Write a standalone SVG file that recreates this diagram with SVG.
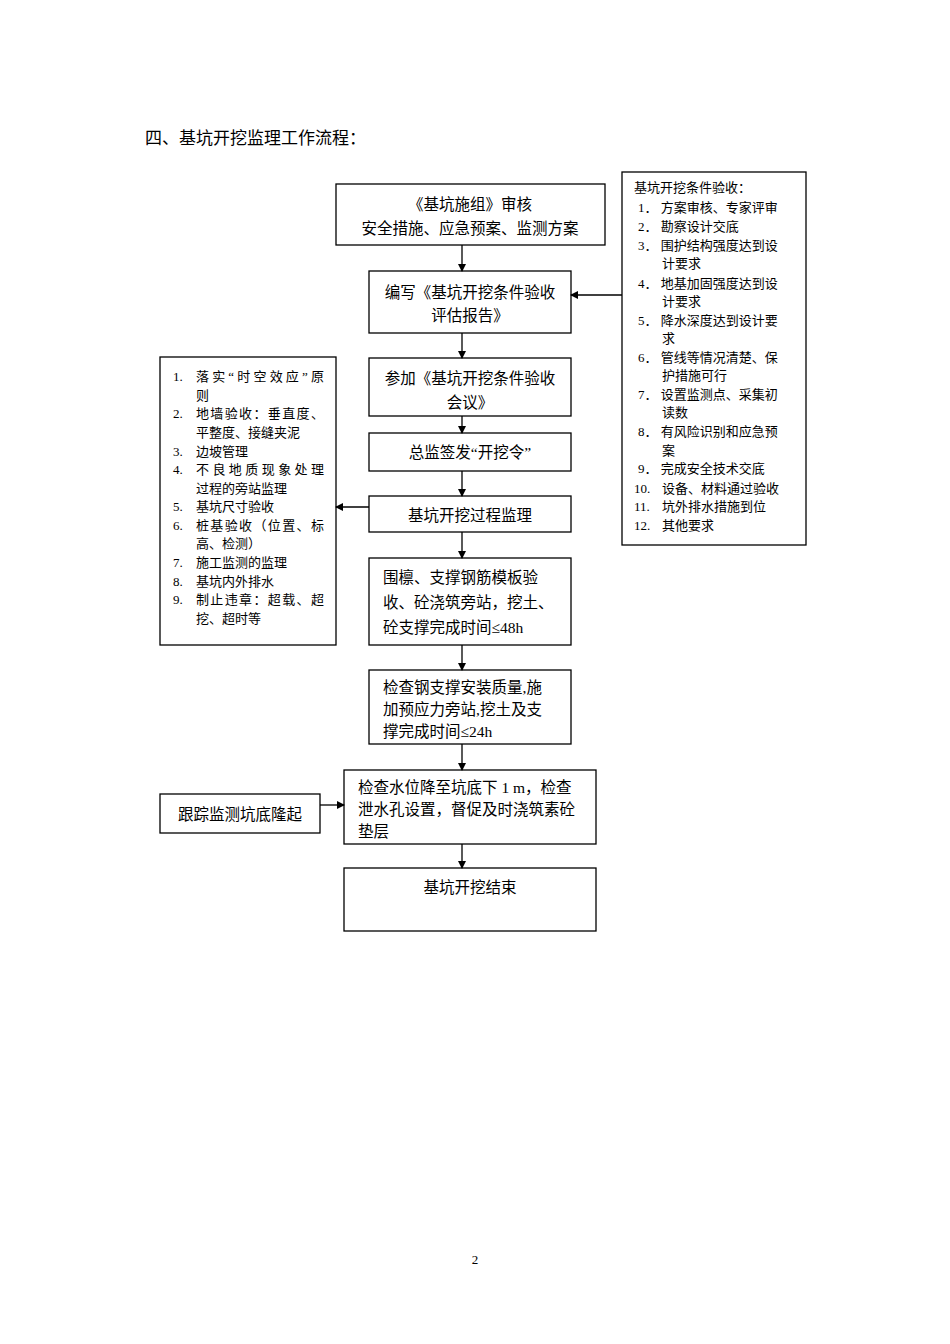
<svg xmlns="http://www.w3.org/2000/svg" width="950" height="1344" viewBox="0 0 950 1344">
<style>
text{font-family:"Liberation Serif","Noto Sans CJK SC",serif;fill:#000}
.b{fill:#fff;stroke:#000;stroke-width:1.3}
.m{font-size:15.5px}
.s{font-size:13px}
.c{text-anchor:middle}
.l{stroke:#000;stroke-width:1.3;fill:none;marker-end:url(#a)}
</style>
<defs><marker id="a" markerWidth="8" markerHeight="8" refX="7" refY="4" orient="auto" markerUnits="userSpaceOnUse"><path d="M0,0L8,4L0,8z" fill="#000"/></marker></defs>
<rect width="950" height="1344" fill="#fff"/>
<text x="145" y="144" style="font-size:17px">四、基坑开挖监理工作流程：</text>
<g id="n1"><rect class="b" x="336" y="184" width="269" height="61"/><text class="m c" x="470" y="210">《基坑施组》审核</text><text class="m c" x="470" y="234">安全措施、应急预案、监测方案</text></g>
<g id="n2"><rect class="b" x="369" y="271" width="202" height="62"/><text class="m c" x="470" y="298">编写《基坑开挖条件验收</text><text class="m c" x="470" y="321">评估报告》</text></g>
<g id="n3"><rect class="b" x="369" y="358" width="202" height="58"/><text class="m c" x="470" y="384">参加《基坑开挖条件验收</text><text class="m c" x="470" y="408">会议》</text></g>
<g id="n4"><rect class="b" x="369" y="433" width="202" height="38"/><text class="m c" x="470" y="458">总监签发“开挖令”</text></g>
<g id="n5"><rect class="b" x="369" y="496" width="202" height="36"/><text class="m c" x="470" y="521">基坑开挖过程监理</text></g>
<g id="n6"><rect class="b" x="369" y="558" width="202" height="87"/><text class="m" x="383" y="583">围檩、支撑钢筋模板验</text><text class="m" x="383" y="608">收、砼浇筑旁站，挖土、</text><text class="m" x="383" y="633">砼支撑完成时间≤48h</text></g>
<g id="n7"><rect class="b" x="369" y="670" width="202" height="74"/><text class="m" x="383" y="693">检查钢支撑安装质量,施</text><text class="m" x="383" y="715">加预应力旁站,挖土及支</text><text class="m" x="383" y="737">撑完成时间≤24h</text></g>
<g id="n8"><rect class="b" x="344" y="770" width="252" height="74"/><text class="m" x="358" y="793">检查水位降至坑底下 1 m，检查</text><text class="m" x="358" y="815">泄水孔设置，督促及时浇筑素砼</text><text class="m" x="358" y="837">垫层</text></g>
<g id="n9"><rect class="b" x="344" y="868" width="252" height="63"/><text class="m c" x="470" y="893">基坑开挖结束</text></g>
<g id="n10"><rect class="b" x="160" y="794" width="160" height="39"/><text class="m c" x="240" y="820">跟踪监测坑底隆起</text></g>
<g id="r"><rect class="b" x="622" y="172" width="184" height="373"/>
<g class="s">
<text x="634" y="192">基坑开挖条件验收：</text>
<text x="638" y="212">1． 方案审核、专家评审</text>
<text x="638" y="231">2． 勘察设计交底</text>
<text x="638" y="250">3． 围护结构强度达到设</text>
<text x="662" y="268">计要求</text>
<text x="638" y="288">4． 地基加固强度达到设</text>
<text x="662" y="306">计要求</text>
<text x="638" y="325">5． 降水深度达到设计要</text>
<text x="662" y="343">求</text>
<text x="638" y="362">6． 管线等情况清楚、保</text>
<text x="662" y="380">护措施可行</text>
<text x="638" y="399">7． 设置监测点、采集初</text>
<text x="662" y="417">读数</text>
<text x="638" y="436">8． 有风险识别和应急预</text>
<text x="662" y="455">案</text>
<text x="638" y="473">9． 完成安全技术交底</text>
<text x="634" y="493">10.<tspan x="662">设备、材料通过验收</tspan></text>
<text x="634" y="511">11.<tspan x="662">坑外排水措施到位</tspan></text>
<text x="634" y="530">12.<tspan x="662">其他要求</tspan></text>
</g></g>
<g id="l"><rect class="b" x="160" y="357" width="176" height="288"/>
<g class="s">
<text x="173" y="381">1.<tspan x="196" textLength="128">落实“时空效应”原</tspan></text>
<text x="196" y="400">则</text>
<text x="173" y="418">2.<tspan x="196" textLength="128">地墙验收：垂直度、</tspan></text>
<text x="196" y="437">平整度、接缝夹泥</text>
<text x="173" y="456">3.<tspan x="196">边坡管理</tspan></text>
<text x="173" y="474">4.<tspan x="196" textLength="128">不良地质现象处理</tspan></text>
<text x="196" y="493">过程的旁站监理</text>
<text x="173" y="511">5.<tspan x="196">基坑尺寸验收</tspan></text>
<text x="173" y="530">6.<tspan x="196" textLength="128">桩基验收（位置、标</tspan></text>
<text x="196" y="548">高、检测）</text>
<text x="173" y="567">7.<tspan x="196">施工监测的监理</tspan></text>
<text x="173" y="586">8.<tspan x="196">基坑内外排水</tspan></text>
<text x="173" y="604">9.<tspan x="196" textLength="128">制止违章：超载、超</tspan></text>
<text x="196" y="623">挖、超时等</text>
</g></g>
<g id="connectors">
<path class="l" d="M462,245V271"/>
<path class="l" d="M462,333V358"/>
<path class="l" d="M462,416V433"/>
<path class="l" d="M462,471V496"/>
<path class="l" d="M462,532V558"/>
<path class="l" d="M462,645V670"/>
<path class="l" d="M462,744V770"/>
<path class="l" d="M462,844V868"/>
<path class="l" d="M622,295H571"/>
<path class="l" d="M369,507H336"/>
<path class="l" d="M320,805H344"/>
</g>
<text x="475" y="1264" class="c" style="font-size:13px">2</text>
</svg>
